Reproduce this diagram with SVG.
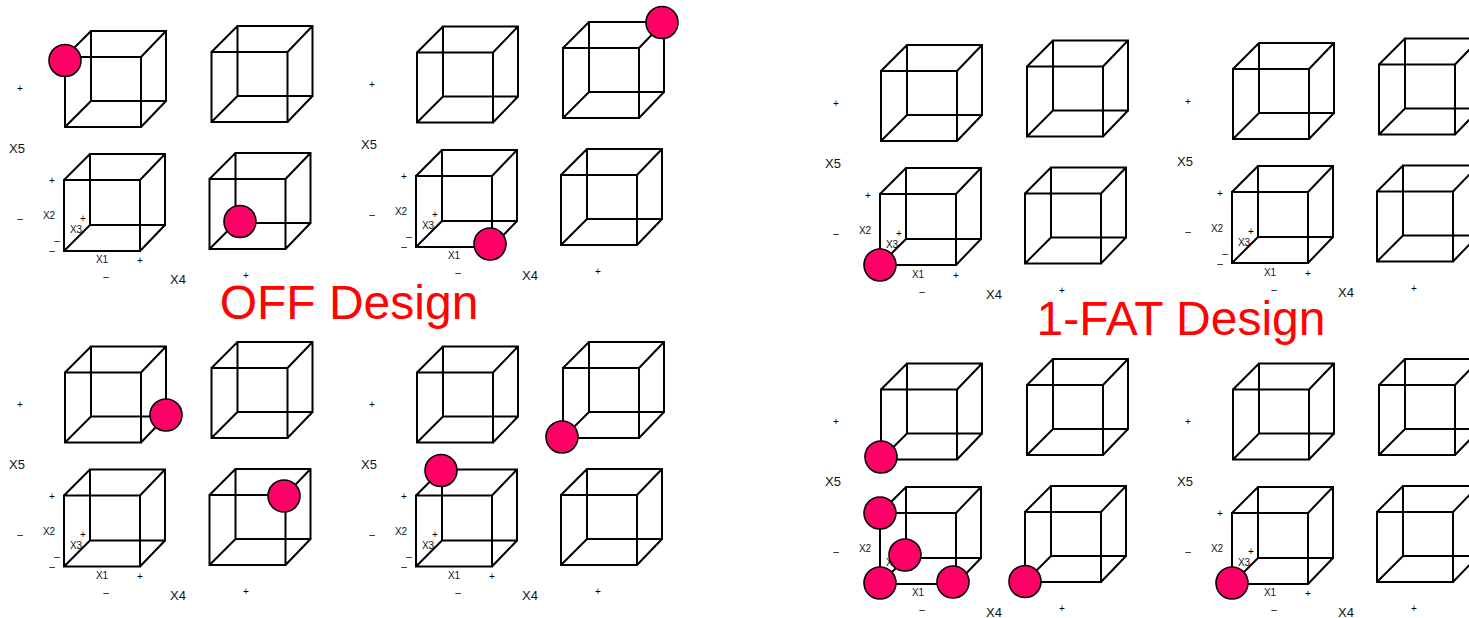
<svg xmlns="http://www.w3.org/2000/svg" xmlns:xlink="http://www.w3.org/1999/xlink" width="1469" height="618" viewBox="0 0 1469 618">
<style>
text{font-family:"Liberation Sans",Arial,sans-serif;text-anchor:middle;fill:#111;opacity:.99}
.m{font-size:13px}
.s{font-size:10px}
.p{font-size:10px;fill:#000}
.t{font-size:48px;fill:#ff0000}
.c{fill:none;stroke:#000;stroke-width:2;stroke-linejoin:miter}
.dot{fill:#ff0066;stroke:#000;stroke-width:1.6}
</style>
<defs>
<path id="cube" class="c" d="M0 0H76V70H0ZM26 -26H101V44H26ZM0 0L26 -26M76 0L101 -26M76 70L101 44M0 70L26 44"/>
<path id="cubeT" class="c" d="M0 0H76V71H0ZM26 -26H101V45H26ZM0 0L26 -26M76 0L101 -26M76 71L101 45M0 71L26 45"/>
</defs>
<rect width="1469" height="618" fill="#fff"/>

<g id="off-top-left">
<use xlink:href="#cube" x="65" y="57"/><use xlink:href="#cube" x="211.500" y="52"/><use xlink:href="#cubeT" x="64" y="180"/><use xlink:href="#cube" x="209.500" y="179"/>
<g>
<text class="p" x="20" y="92">+</text><text class="m" x="17" y="153">X5</text><text class="p" x="52" y="184">+</text><text class="p" x="20" y="221.500">–</text><text class="s" x="49" y="219">X2</text><text class="p" x="83" y="222">+</text><text class="s" x="76" y="233">X3</text><text class="p" x="57" y="244">–</text><text class="p" x="52" y="254">–</text><text class="s" x="102" y="263">X1</text><text class="p" x="140" y="264">+</text><text class="p" x="106" y="279.500">–</text><text class="m" x="178" y="284">X4</text><text class="p" x="246" y="279">+</text>
</g>
<circle class="dot" cx="65" cy="60.500" r="16"/><circle class="dot" cx="240" cy="221.500" r="16"/>
</g>

<g id="off-top-right">
<use xlink:href="#cube" x="417" y="52.500"/><use xlink:href="#cube" x="563" y="48"/><use xlink:href="#cubeT" x="416" y="176"/><use xlink:href="#cube" x="561" y="175"/>
<g transform="translate(352,-4)">
<text class="p" x="20" y="92">+</text><text class="m" x="17" y="153">X5</text><text class="p" x="52" y="184">+</text><text class="p" x="20" y="221.500">–</text><text class="s" x="49" y="219">X2</text><text class="p" x="83" y="222">+</text><text class="s" x="76" y="233">X3</text><text class="p" x="57" y="244">–</text><text class="p" x="52" y="254">–</text><text class="s" x="102" y="263">X1</text><text class="p" x="140" y="264">+</text><text class="p" x="106" y="279.500">–</text><text class="m" x="178" y="284">X4</text><text class="p" x="246" y="279">+</text>
</g>
<circle class="dot" cx="662" cy="22.500" r="16"/><circle class="dot" cx="490" cy="244" r="16"/>
</g>

<g id="off-bottom-left">
<use xlink:href="#cube" x="65" y="372.500"/><use xlink:href="#cube" x="211.500" y="368"/><use xlink:href="#cubeT" x="64" y="495.500"/><use xlink:href="#cube" x="209.500" y="495"/>
<g transform="translate(0,316)">
<text class="p" x="20" y="92">+</text><text class="m" x="17" y="153">X5</text><text class="p" x="52" y="184">+</text><text class="p" x="20" y="221.500">–</text><text class="s" x="49" y="219">X2</text><text class="p" x="83" y="222">+</text><text class="s" x="76" y="233">X3</text><text class="p" x="57" y="244">–</text><text class="p" x="52" y="254">–</text><text class="s" x="102" y="263">X1</text><text class="p" x="140" y="264">+</text><text class="p" x="106" y="279.500">–</text><text class="m" x="178" y="284">X4</text><text class="p" x="246" y="279">+</text>
</g>
<circle class="dot" cx="166" cy="415" r="16"/><circle class="dot" cx="284" cy="496" r="16"/>
</g>

<g id="off-bottom-right">
<use xlink:href="#cube" x="417" y="372.500"/><use xlink:href="#cube" x="563" y="368"/><use xlink:href="#cubeT" x="416" y="495.500"/><use xlink:href="#cube" x="561" y="495"/>
<g transform="translate(352,316)">
<text class="p" x="20" y="92">+</text><text class="m" x="17" y="153">X5</text><text class="p" x="52" y="184">+</text><text class="p" x="20" y="221.500">–</text><text class="s" x="49" y="219">X2</text><text class="p" x="83" y="222">+</text><text class="s" x="76" y="233">X3</text><text class="p" x="57" y="244">–</text><text class="p" x="52" y="254">–</text><text class="s" x="102" y="263">X1</text><text class="p" x="140" y="264">+</text><text class="p" x="106" y="279.500">–</text><text class="m" x="178" y="284">X4</text><text class="p" x="246" y="279">+</text>
</g>
<circle class="dot" cx="441" cy="470.500" r="16"/><circle class="dot" cx="562" cy="437" r="16"/>
</g>

<g id="fat-top-left">
<use xlink:href="#cube" x="881" y="71"/><use xlink:href="#cube" x="1027" y="66.500"/><use xlink:href="#cubeT" x="880" y="194"/><use xlink:href="#cube" x="1025" y="193.500"/>
<g transform="translate(816,15)">
<text class="p" x="20" y="92">+</text><text class="m" x="17" y="153">X5</text><text class="p" x="52" y="184">+</text><text class="p" x="20" y="221.500">–</text><text class="s" x="49" y="219">X2</text><text class="p" x="83" y="222">+</text><text class="s" x="76" y="233">X3</text><text class="p" x="57" y="244">–</text><text class="p" x="52" y="254">–</text><text class="s" x="102" y="263">X1</text><text class="p" x="140" y="264">+</text><text class="p" x="106" y="279.500">–</text><text class="m" x="178" y="284">X4</text><text class="p" x="246" y="279">+</text>
</g>
<circle class="dot" cx="880" cy="265" r="16"/>
</g>

<g id="fat-top-right">
<use xlink:href="#cube" x="1233" y="69"/><use xlink:href="#cube" x="1379" y="64.500"/><use xlink:href="#cubeT" x="1232" y="192"/><use xlink:href="#cube" x="1377" y="191.500"/>
<g transform="translate(1168,13)">
<text class="p" x="20" y="92">+</text><text class="m" x="17" y="153">X5</text><text class="p" x="52" y="184">+</text><text class="p" x="20" y="221.500">–</text><text class="s" x="49" y="219">X2</text><text class="p" x="83" y="222">+</text><text class="s" x="76" y="233">X3</text><text class="p" x="57" y="244">–</text><text class="p" x="52" y="254">–</text><text class="s" x="102" y="263">X1</text><text class="p" x="140" y="264">+</text><text class="p" x="106" y="279.500">–</text><text class="m" x="178" y="284">X4</text><text class="p" x="246" y="279">+</text>
</g>
</g>

<g id="fat-bottom-left">
<use xlink:href="#cube" x="881" y="389.500"/><use xlink:href="#cube" x="1027" y="385"/><use xlink:href="#cubeT" x="880" y="513"/><use xlink:href="#cube" x="1025" y="512"/>
<g transform="translate(816,333)">
<text class="p" x="20" y="92">+</text><text class="m" x="17" y="153">X5</text><text class="p" x="52" y="184">+</text><text class="p" x="20" y="221.500">–</text><text class="s" x="49" y="219">X2</text><text class="p" x="83" y="222">+</text><text class="s" x="76" y="233">X3</text><text class="p" x="57" y="244">–</text><text class="p" x="52" y="254">–</text><text class="s" x="102" y="263">X1</text><text class="p" x="140" y="264">+</text><text class="p" x="106" y="279.500">–</text><text class="m" x="178" y="284">X4</text><text class="p" x="246" y="279">+</text>
</g>
<circle class="dot" cx="881" cy="457" r="16"/><circle class="dot" cx="880" cy="513" r="16"/><circle class="dot" cx="905" cy="555" r="16"/><circle class="dot" cx="880" cy="583" r="16"/><circle class="dot" cx="953" cy="582" r="16"/><circle class="dot" cx="1025" cy="581.500" r="16"/>
</g>

<g id="fat-bottom-right">
<use xlink:href="#cube" x="1233" y="389.500"/><use xlink:href="#cube" x="1379" y="385"/><use xlink:href="#cubeT" x="1232" y="513"/><use xlink:href="#cube" x="1377" y="512"/>
<g transform="translate(1168,333)">
<text class="p" x="20" y="92">+</text><text class="m" x="17" y="153">X5</text><text class="p" x="52" y="184">+</text><text class="p" x="20" y="221.500">–</text><text class="s" x="49" y="219">X2</text><text class="p" x="83" y="222">+</text><text class="s" x="76" y="233">X3</text><text class="p" x="57" y="244">–</text><text class="p" x="52" y="254">–</text><text class="s" x="102" y="263">X1</text><text class="p" x="140" y="264">+</text><text class="p" x="106" y="279.500">–</text><text class="m" x="178" y="284">X4</text><text class="p" x="246" y="279">+</text>
</g>
<circle class="dot" cx="1232" cy="583" r="16"/>
</g>

<text class="t" x="349" y="319">OFF Design</text>
<text class="t" x="1181" y="335">1-FAT Design</text>
</svg>
